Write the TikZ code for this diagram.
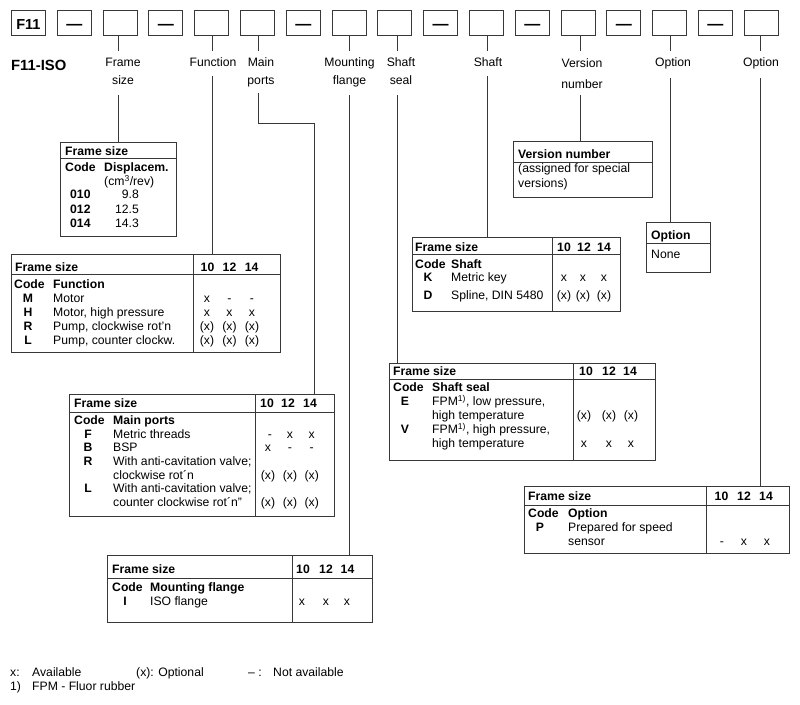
\documentclass[tikz,border=0pt]{standalone}
\usepackage{fontspec}
\setmainfont{Liberation Sans}
\newcounter{tn}
\newcommand\fsz{\fontsize{12.2}{14}\selectfont}
\newcommand\TX[4][tl]{\stepcounter{tn}\node[#1] (t\arabic{tn}) at (#2,#3) {#4};}
\definecolor{lc}{gray}{0.22}
\begin{document}
\begin{tikzpicture}[x=1pt,y=-1pt,
  tl/.style={anchor=base west,inner sep=0,font=\fsz},
  tb/.style={anchor=base west,inner sep=0,font=\fsz\bfseries},
  tc/.style={anchor=base,inner sep=0,font=\fsz},
  tcb/.style={anchor=base,inner sep=0,font=\fsz\bfseries},
  tr/.style={anchor=base east,inner sep=0,font=\fsz},
  frm/.style={draw=lc,line width=0.9pt,inner sep=0,anchor=north west},
  sbox/.style={draw=lc,line width=0.9pt,minimum width=34pt,minimum height=25pt,inner sep=0,anchor=north west},
  lead/.style={draw=lc,line width=0.8pt},
  rule/.style={draw=lc,line width=0.8pt}]
\useasboundingbox (0,0) rectangle (800,704);
\fill[white] (0,0) rectangle (800,704);

% ---------- top code boxes ----------
\foreach \i in {0,...,16} \node[sbox] (b\i) at ({11+45.8*\i},10) {};
\node[anchor=base,inner sep=0,font=\fontsize{14.5}{15}\selectfont\bfseries] (f11) at ([yshift=-6.5pt]b0.center) {F11};
\foreach \i in {1,3,6,9,11,13,15}
  \node[anchor=base,inner sep=0,font=\fontsize{16}{16}\selectfont\bfseries] (d\i) at ([yshift=-6.2pt]b\i.center) {—};

\node[anchor=base west,inner sep=0,font=\fontsize{14.8}{16}\selectfont\bfseries] (iso) at (11,70) {F11-ISO};

% ---------- labels ----------
\TX[tc]{123}{66}{Frame}\TX[tc]{123}{84}{size}
\TX[tc]{213}{66}{Function}
\TX[tc]{261}{66}{Main}\TX[tc]{261}{84}{ports}
\TX[tc]{349.5}{66}{Mounting}\TX[tc]{349.5}{84}{flange}
\TX[tc]{401}{66}{Shaft}\TX[tc]{401}{84}{seal}
\TX[tc]{488}{66}{Shaft}
\TX[tc]{582}{67.5}{Version}\TX[tc]{582}{88}{number}
\TX[tc]{673}{66}{Option}
\TX[tc]{761}{66}{Option}

% ---------- tables ----------
% Frame size
\node[frm,minimum width=116pt,minimum height=94pt] (tfs) at (60,142) {};
\draw[rule] ([yshift=-16pt]tfs.north west) -- ([yshift=-16pt]tfs.north east);
\TX[tb]{65}{155}{Frame size}
\TX[tb]{65}{171.4}{Code}\TX[tb]{104}{171.4}{Displacem.}
\TX[tl]{104}{185.4}{(cm\textsuperscript{3}/rev)}
\TX[tb]{70}{198.4}{010}\TX[tr]{139}{198.4}{9.8}
\TX[tb]{70}{213.4}{012}\TX[tr]{139}{213.4}{12.5}
\TX[tb]{70}{227.4}{014}\TX[tr]{139}{227.4}{14.3}

% Function
\node[frm,minimum width=269pt,minimum height=98pt] (tfn) at (11,254) {};
\draw[rule] ([yshift=-20pt]tfn.north west) -- ([yshift=-20pt]tfn.north east);
\draw[rule] ([xshift=182pt]tfn.north west) -- ([xshift=182pt]tfn.south west);
\TX[tb]{15}{271.4}{Frame size}
\TX[tcb]{207.5}{271.4}{10}\TX[tcb]{229.5}{271.4}{12}\TX[tcb]{251.7}{271.4}{14}
\TX[tb]{14}{288.4}{Code}\TX[tb]{53}{288.4}{Function}
\TX[tcb]{28}{302.4}{M}\TX[tl]{53}{302.4}{Motor}
\TX[tc]{207}{302.4}{x}\TX[tc]{229.5}{302.4}{-}\TX[tc]{252}{302.4}{-}
\TX[tcb]{28}{316.4}{H}\TX[tl]{53}{316.4}{Motor, high pressure}
\TX[tc]{207}{316.4}{x}\TX[tc]{229.5}{316.4}{x}\TX[tc]{252}{316.4}{x}
\TX[tcb]{28}{330.4}{R}\TX[tl]{53}{330.4}{Pump, clockwise rot'n}
\TX[tc]{207}{330.4}{(x)}\TX[tc]{229.5}{330.4}{(x)}\TX[tc]{252}{330.4}{(x)}
\TX[tcb]{28}{344.4}{L}\TX[tl]{53}{344.4}{Pump, counter clockw.}
\TX[tc]{207}{344.4}{(x)}\TX[tc]{229.5}{344.4}{(x)}\TX[tc]{252}{344.4}{(x)}

% Main ports
\node[frm,minimum width=265pt,minimum height=122pt] (tmp) at (69,394) {};
\draw[rule] ([yshift=-18pt]tmp.north west) -- ([yshift=-18pt]tmp.north east);
\draw[rule] ([xshift=186pt]tmp.north west) -- ([xshift=186pt]tmp.south west);
\TX[tb]{74}{407.4}{Frame size}
\TX[tcb]{267}{407.4}{10}\TX[tcb]{288}{407.4}{12}\TX[tcb]{310}{407.4}{14}
\TX[tb]{74}{424.4}{Code}\TX[tb]{113}{424.4}{Main ports}
\TX[tcb]{88}{438}{F}\TX[tl]{113}{438}{Metric threads}
\TX[tc]{270}{438}{-}\TX[tc]{290}{438}{x}\TX[tc]{311.7}{438}{x}
\TX[tcb]{88}{451.8}{B}\TX[tl]{113}{451.8}{BSP}
\TX[tc]{268}{451.8}{x}\TX[tc]{290}{451.8}{-}\TX[tc]{311.7}{451.8}{-}
\TX[tcb]{88}{465.4}{R}\TX[tl]{113}{465.4}{With anti-cavitation valve;}
\TX[tl]{113}{479}{clockwise rot´n}
\TX[tc]{268}{479}{(x)}\TX[tc]{290}{479}{(x)}\TX[tc]{311.7}{479}{(x)}
\TX[tcb]{88}{492.8}{L}\TX[tl]{113}{492.8}{With anti-cavitation valve;}
\TX[tl]{113}{506.4}{counter clockwise rot´n"}
\TX[tc]{268}{506.4}{(x)}\TX[tc]{290}{506.4}{(x)}\TX[tc]{311.7}{506.4}{(x)}

% Mounting flange
\node[frm,minimum width=265pt,minimum height=67pt] (tmf) at (107,555) {};
\draw[rule] ([yshift=-23pt]tmf.north west) -- ([yshift=-23pt]tmf.north east);
\draw[rule] ([xshift=185pt]tmf.north west) -- ([xshift=185pt]tmf.south west);
\TX[tb]{112}{573.4}{Frame size}
\TX[tcb]{303}{573.4}{10}\TX[tcb]{326}{573.4}{12}\TX[tcb]{347.5}{573.4}{14}
\TX[tb]{112}{591.4}{Code}\TX[tb]{150}{591.4}{Mounting flange}
\TX[tcb]{125}{605.4}{I}\TX[tl]{150}{605.4}{ISO flange}
\TX[tc]{302}{605.4}{x}\TX[tc]{326}{605.4}{x}\TX[tc]{347}{605.4}{x}

% Version number
\node[frm,minimum width=139pt,minimum height=56pt] (tvn) at (513,141) {};
\draw[rule] ([yshift=-21pt]tvn.north west) -- ([yshift=-21pt]tvn.north east);
\TX[tb]{518}{158.4}{Version number}
\TX[tl]{518}{172.6}{(assigned for special}
\TX[tl]{518}{187}{versions)}

% Option (small)
\node[frm,minimum width=64pt,minimum height=50pt] (top) at (646,222) {};
\draw[rule] ([yshift=-21pt]top.north west) -- ([yshift=-21pt]top.north east);
\TX[tb]{651}{239.4}{Option}
\TX[tl]{651}{258.4}{None}

% Shaft
\node[frm,minimum width=208pt,minimum height=74pt] (tsh) at (412,237) {};
\draw[rule] ([yshift=-17pt]tsh.north west) -- ([yshift=-17pt]tsh.north east);
\draw[rule] ([xshift=140pt]tsh.north west) -- ([xshift=140pt]tsh.south west);
\TX[tb]{415}{251.4}{Frame size}
\TX[tcb]{564}{251.4}{10}\TX[tcb]{584}{251.4}{12}\TX[tcb]{604}{251.4}{14}
\TX[tb]{415}{268.4}{Code}\TX[tb]{451}{268.4}{Shaft}
\TX[tcb]{428}{281.4}{K}\TX[tl]{451}{281.4}{Metric key}
\TX[tc]{564}{281.4}{x}\TX[tc]{583}{281.4}{x}\TX[tc]{604}{281.4}{x}
\TX[tcb]{428}{299.4}{D}\TX[tl]{451}{299.4}{Spline, DIN 5480}
\TX[tc]{564}{299.4}{(x)}\TX[tc]{583}{299.4}{(x)}\TX[tc]{604}{299.4}{(x)}

% Shaft seal
\node[frm,minimum width=266pt,minimum height=97pt] (tss) at (389,363) {};
\draw[rule] ([yshift=-16pt]tss.north west) -- ([yshift=-16pt]tss.north east);
\draw[rule] ([xshift=184pt]tss.north west) -- ([xshift=184pt]tss.south west);
\TX[tb]{393}{375.4}{Frame size}
\TX[tcb]{586}{375.4}{10}\TX[tcb]{609}{375.4}{12}\TX[tcb]{630}{375.4}{14}
\TX[tb]{393}{391.4}{Code}\TX[tb]{432}{391.4}{Shaft seal}
\TX[tcb]{405}{405.4}{E}\TX[tl]{432}{405.4}{FPM\textsuperscript{1)}, low pressure,}
\TX[tl]{432}{419.4}{high temperature}
\TX[tc]{584}{419.4}{(x)}\TX[tc]{609}{419.4}{(x)}\TX[tc]{631}{419.4}{(x)}
\TX[tcb]{405}{433.4}{V}\TX[tl]{432}{433.4}{FPM\textsuperscript{1)}, high pressure,}
\TX[tl]{432}{447.4}{high temperature}
\TX[tc]{584}{447.4}{x}\TX[tc]{609}{447.4}{x}\TX[tc]{631}{447.4}{x}

% Option table
\node[frm,minimum width=265pt,minimum height=67pt] (top2) at (524,486) {};
\draw[rule] ([yshift=-19pt]top2.north west) -- ([yshift=-19pt]top2.north east);
\draw[rule] ([xshift=182pt]top2.north west) -- ([xshift=182pt]top2.south west);
\TX[tb]{528}{500.4}{Frame size}
\TX[tcb]{721.5}{500.4}{10}\TX[tcb]{744}{500.4}{12}\TX[tcb]{766}{500.4}{14}
\TX[tb]{528}{517.4}{Code}\TX[tb]{568}{517.4}{Option}
\TX[tcb]{540}{531.4}{P}\TX[tl]{568}{531.4}{Prepared for speed}
\TX[tl]{568}{545.4}{sensor}
\TX[tc]{722}{545.4}{-}\TX[tc]{744}{545.4}{x}\TX[tc]{767}{545.4}{x}

% ---------- leader lines ----------
\foreach \i/\dx in {2/-1.5,4/0.5,5/0.8,7/0,8/2.5,10/1,12/2.5,14/1,16/-0.8}
  \draw[lead] ([xshift=\dx pt]b\i.south) -- ++(0,15);
\draw[lead] ([xshift=-1.5pt]b2.south |- 0,95) -- ([xshift=-1.5pt]b2.south |- tfs.north);
\draw[lead] ([xshift=0.5pt]b4.south |- 0,76) -- ([xshift=0.5pt]b4.south |- tfn.north);
\draw[lead] ([xshift=0.8pt]b5.south |- 0,93) -- ([xshift=0.8pt]b5.south |- 0,123) -| ([xshift=-21pt]tmp.north east);
\draw[lead] (b7.south |- 0,95) -- (b7.south |- tmf.north);
\draw[lead] ([xshift=2.5pt]b8.south |- 0,95) -- ([xshift=2.5pt]b8.south |- tss.north);
\draw[lead] ([xshift=1pt]b10.south |- 0,76) -- ([xshift=1pt]b10.south |- tsh.north);
\draw[lead] ([xshift=2.5pt]b12.south |- 0,95) -- ([xshift=2.5pt]b12.south |- tvn.north);
\draw[lead] ([xshift=1pt]b14.south |- 0,78) -- ([xshift=1pt]b14.south |- top.north);
\draw[lead] ([xshift=-0.8pt]b16.south |- 0,78) -- ([xshift=-0.8pt]b16.south |- top2.north);

% ---------- footer ----------
\TX[tl]{10}{676.4}{x:}\TX[tl]{32}{676.4}{Available}
\TX[tl]{136}{676.4}{(x): Optional}
\TX[tl]{248}{676.4}{– :}\TX[tl]{273}{676.4}{Not available}
\TX[tl]{10}{690.4}{1)}\TX[tl]{32}{690.4}{FPM - Fluor rubber}
\end{tikzpicture}
\end{document}
